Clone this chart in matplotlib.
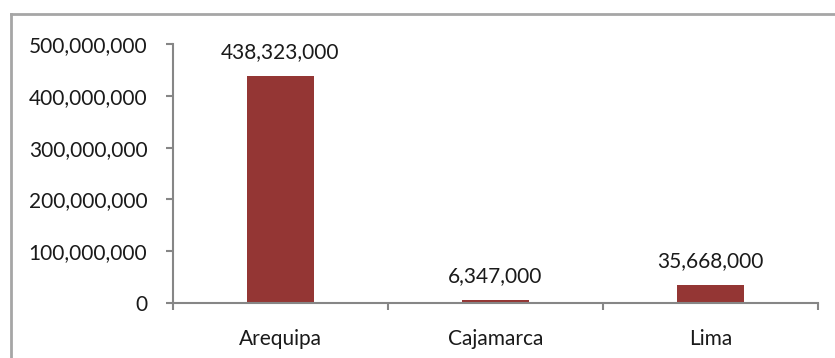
import matplotlib.pyplot as plt
from matplotlib.lines import Line2D
from matplotlib.ticker import FuncFormatter

regiones = ['Arequipa', 'Cajamarca', 'Lima']
valores = [438323000, 6347000, 35668000]

plt.rcParams['font.family'] = ['Lato', 'DejaVu Sans']

fig = plt.figure(figsize=(8.35, 3.58), dpi=100)
ax = fig.add_axes([173 / 835, 1 - 303 / 358, 645 / 835, (303 - 44) / 358])

x = list(range(len(regiones)))
barras = ax.bar(x, valores, width=0.315, color='#943634')

for xi, v in zip(x, valores):
    ax.annotate(f'{v:,}', (xi, v), xytext=(0, 10), textcoords='offset points',
                ha='center', va='bottom', fontsize=15, color='#1a1a1a')

ax.set_xlim(-0.5, len(regiones) - 0.5)
ax.set_ylim(0, 500000000)
ax.set_yticks(range(0, 500000001, 100000000))
ax.yaxis.set_major_formatter(FuncFormatter(lambda v, p: f'{int(v):,}'))
ax.set_xticks(x)
ax.set_xticklabels(regiones)
ax.set_xticks([-0.5, 0.5, 1.5, 2.5], minor=True)
ax.tick_params(axis='x', which='major', length=0, pad=19, labelsize=15, labelcolor='#1a1a1a')
ax.tick_params(axis='x', which='minor', length=5, width=1.5, color='#868686', direction='out')
ax.tick_params(axis='y', length=5, width=1.5, color='#868686', pad=13.5, labelsize=15, labelcolor='#1a1a1a')

for lado in ['top', 'right']:
    ax.spines[lado].set_visible(False)
for lado in ['left', 'bottom']:
    ax.spines[lado].set_color('#868686')
    ax.spines[lado].set_linewidth(1.5)

# marco exterior del grafico
fig.add_artist(Line2D([11 / 835, 11 / 835], [0, 1 - 14 / 358], color='#a6a6a6', lw=2,
                      transform=fig.transFigure))
fig.add_artist(Line2D([11 / 835, 1], [1 - 14 / 358, 1 - 14 / 358], color='#a6a6a6', lw=2,
                      transform=fig.transFigure))

fig.savefig('out.png', dpi=100)
